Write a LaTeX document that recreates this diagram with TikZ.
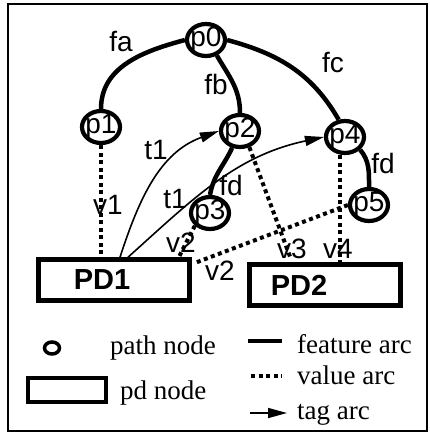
\documentclass[tikz,border=0pt]{standalone}
\usepackage{fontspec}
\setmainfont{Liberation Serif}
\setsansfont{Liberation Sans}
\usetikzlibrary{positioning, arrows.meta, shapes.geometric}

\begin{document}
\begin{tikzpicture}[
    x=1pt, y=-1pt,
    >={Triangle[length=19pt,width=10pt]},
    pathnode/.style={draw=black, line width=4.2pt, ellipse, minimum width=38pt, minimum height=32pt, inner sep=-6pt, font=\sffamily\fontsize{28}{28}\selectfont},
    pdnode/.style={draw=black, line width=4.5pt, minimum width=151pt, minimum height=41pt},
    pdlabel/.style={font=\sffamily\bfseries\fontsize{29}{29}\selectfont},
    feature/.style={draw=black, line width=4.5pt},
    value/.style={draw=black, line width=4pt, dash pattern=on 4pt off 3.5pt},
    tag/.style={->, draw=black, line width=1.6pt},
    lbl/.style={font=\sffamily\fontsize{28}{28}\selectfont, inner sep=0pt},
    legend/.style={font=\fontsize{27}{27}\selectfont, anchor=base west, inner sep=0pt}
]
\useasboundingbox (0,0) rectangle (430,437);

% Frame
\draw[line width=1.6pt] (8,4) rectangle (427,431);

% Path nodes
\node[pathnode] (p0) at (206,40) {p0};
\node[pathnode] (p1) at (101,127) {p1};
\node[pathnode] (p2) at (240,131) {p2};
\node[pathnode] (p3) at (210,213) {p3};
\node[pathnode] (p4) at (345,137) {p4};
\node[pathnode] (p5) at (369,205) {p5};

% PD nodes
\node[pdnode, label={[pdlabel, xshift=-12pt]center:PD1}] (PD1) at (114,280) {};
\node[pdnode, label={[pdlabel, xshift=-26pt]center:PD2}] (PD2) at (325,285) {};

% Feature arcs
\draw[feature] (p0.west) to[out=195, in=90] (p1.north);
\draw[feature] (p0.-55) to[out=-60, in=90] (p2.north);
\draw[feature] (p0.east) to[out=-15, in=120] (p4.110);
\draw[feature] (p2.-115) to[out=-115, in=80] (p3.north);
\draw[feature] (p4.-40) to[out=-50, in=90] (p5.north);

% Feature labels
\node[lbl] at (121,42) {fa};
\node[lbl] at (216,84) {fb};
\node[lbl] at (333,63) {fc};
\node[lbl] at (231,185) {fd};
\node[lbl] at (383,163) {fd};

% Tag arcs
\draw[tag] ([xshift=6pt]PD1.north) to[out=72, in=200] (p2.west);
\draw[tag] ([xshift=14pt]PD1.north) to[out=42, in=192] (p4.west);
\node[lbl] at (156,150) {t1};
\node[lbl] at (175,199) {t1};

% Value arcs
\draw[value] (p1.south) -- (p1.south |- PD1.north);
\draw[value] (p3.220) -- ([xshift=-13pt]PD1.north east);
\draw[value] (p5.west) -- ([xshift=5pt, yshift=-5pt]PD1.north east);
\draw[value] (p2.-60) -- ([xshift=43pt, yshift=5pt]PD2.north west);
\draw[value] ([xshift=-5pt]p4.south) -- ([xshift=-5pt]p4.south |- PD2.north);
\node[lbl] at (108,205) {v1};
\node[lbl] at (181,243) {v2};
\node[lbl] at (220,271) {v2};
\node[lbl] at (292,249) {v3};
\node[lbl] at (338,249) {v4};

% Legend
\node[draw=black, ellipse, line width=3.5pt, minimum width=15pt, minimum height=12pt, inner sep=0pt] (lgpath) at (52,348) {};
\node[legend] at (110,354) {path node};
\node[draw=black, line width=4pt, minimum width=78pt, minimum height=24pt] (lgpd) at (67,390) {};
\node[legend] at (120,399) {pd node};
\coordinate (lgf1) at (248,341);
\coordinate (lgf2) at (282,341);
\draw[feature] (lgf1) -- (lgf2);
\node[legend] at (297,353) {feature arc};
\coordinate (lgv1) at (251,376);
\coordinate (lgv2) at (282,376);
\draw[value] (lgv1) -- (lgv2);
\node[legend] at (297,384) {value arc};
\coordinate (lgt1) at (250,413);
\coordinate (lgt2) at (287,413);
\draw[tag] (lgt1) -- (lgt2);
\node[legend] at (297,419) {tag arc};

\end{tikzpicture}
\end{document}
